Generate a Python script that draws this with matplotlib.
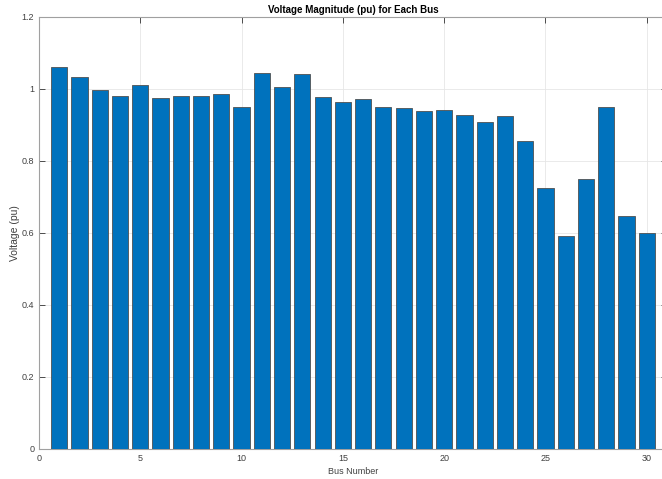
import numpy as np
import matplotlib.pyplot as plt

plt.rcParams['font.family'] = ['Liberation Sans', 'DejaVu Sans']

# bus numbers and voltage magnitudes
bus = np.arange(1, 31)
voltage = [1.061, 1.034, 0.997, 0.981, 1.011, 0.975, 0.981, 0.981, 0.985, 0.950,
           1.044, 1.005, 1.042, 0.979, 0.965, 0.973, 0.951, 0.946, 0.939, 0.941,
           0.928, 0.909, 0.924, 0.856, 0.724, 0.591, 0.749, 0.949, 0.646, 0.601]
x_ticks = [0, 5, 10, 15, 20, 25, 30]
y_ticks = [0, 0.2, 0.4, 0.6, 0.8, 1.0, 1.2]
y_labels = ['0', '0.2', '0.4', '0.6', '0.8', '1', '1.2']

fig = plt.figure(figsize=(6.62, 4.79), dpi=100)
ax = fig.add_axes([39 / 662, 30 / 479, 628 / 662, 432 / 479])

ax.bar(bus, voltage, width=0.8, color='#0072BD', edgecolor='#505050',
       linewidth=0.6, zorder=3)

ax.set_xlim(0, 31)
ax.set_ylim(0, 1.2)
ax.set_xticks(x_ticks)
ax.set_yticks(y_ticks)
ax.set_yticklabels(y_labels)

ax.grid(True, color='#e6e6e6', linewidth=0.6, zorder=0)
ax.tick_params(direction='in', length=4, width=0.6, color='#333333',
               labelsize=6.5, labelcolor='#404040', top=True, right=True)
for s in ax.spines.values():
    s.set_color('#a0a0a0')
    s.set_linewidth(0.8)

ax.set_xlabel('Bus Number', fontsize=6.5, color='#404040', labelpad=3)
ax.set_ylabel('Voltage (pu)', fontsize=7.5, color='#404040', labelpad=1)
ax.set_title('Voltage Magnitude (pu) for Each Bus', fontsize=7,
             fontweight='bold', pad=3)

fig.savefig('out.png', dpi=100)
